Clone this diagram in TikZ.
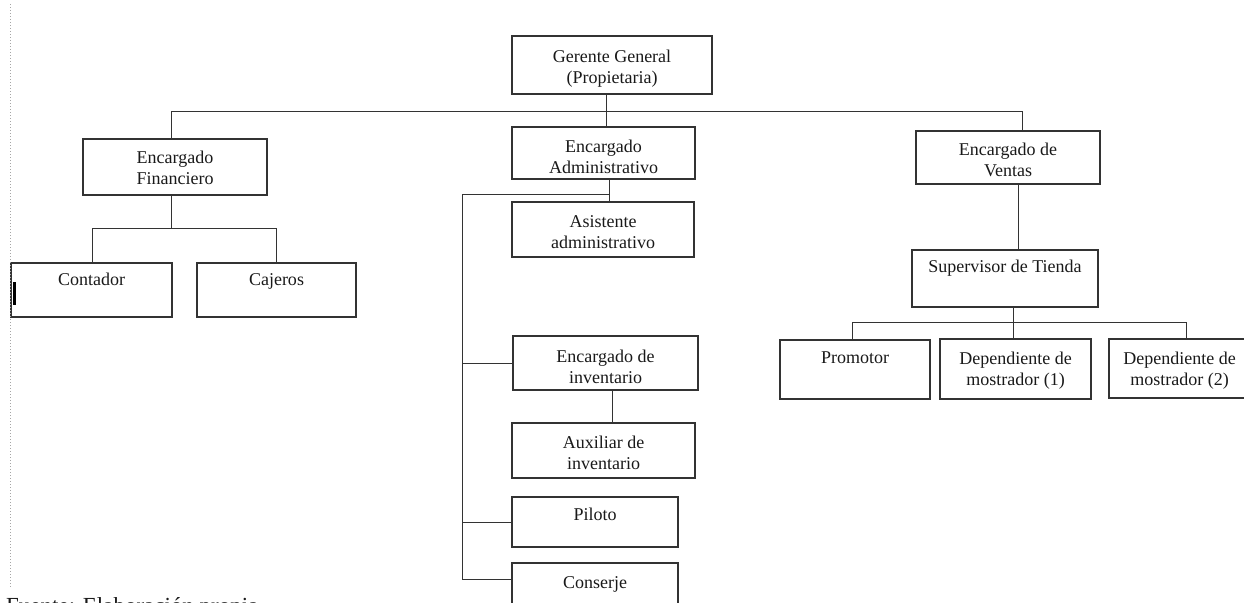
\documentclass[tikz,border=0pt]{standalone}
\usepackage{fontspec}
\setmainfont{Liberation Serif}
\begin{document}
\begin{tikzpicture}[x=1pt,y=-1pt,
  box/.style={draw=black!80, line width=1.1pt, inner sep=0pt, outer sep=0pt, rectangle},
  lbl/.style={anchor=north, align=center, inner sep=0pt, text=black!90, font=\fontsize{18}{21}\selectfont},
  conn/.style={draw=black!80, line width=1pt}]
\useasboundingbox (0,0) rectangle (1244,602);
% boxes
\node[box, minimum width=200pt, minimum height=58pt] (gg) at (612,65) {};
\node[box, minimum width=184pt, minimum height=56pt] (fin) at (175,167) {};
\node[box, minimum width=183pt, minimum height=52pt] (adm) at (603.5,153) {};
\node[box, minimum width=184pt, minimum height=53pt] (ven) at (1008,157.5) {};
\node[box, minimum width=161pt, minimum height=54pt] (cont) at (91.5,290) {};
\node[box, minimum width=159pt, minimum height=54pt] (caj) at (276.5,290) {};
\node[box, minimum width=182pt, minimum height=55pt] (asis) at (603,229.5) {};
\node[box, minimum width=185pt, minimum height=54pt] (inv) at (605.5,363) {};
\node[box, minimum width=183pt, minimum height=55pt] (aux) at (603.5,450.5) {};
\node[box, minimum width=166pt, minimum height=50pt] (pil) at (595,522) {};
\node[box, minimum width=166pt, minimum height=57pt] (cons) at (595,591.5) {};
\node[box, minimum width=186pt, minimum height=57pt] (sup) at (1005,278.5) {};
\node[box, minimum width=150pt, minimum height=59pt] (prom) at (855,369.5) {};
\node[box, minimum width=151pt, minimum height=60pt] (dep1) at (1015.5,369) {};
\node[box, minimum width=141pt, minimum height=59pt] (dep2) at (1179.5,368.5) {};
% labels
\node[lbl] at ([yshift=-14pt]gg.north) {Gerente General\\(Propietaria)};
\node[lbl] at ([yshift=-12pt]fin.north) {Encargado\\Financiero};
\node[lbl] at ([yshift=-13pt]adm.north) {Encargado\\Administrativo};
\node[lbl] at ([yshift=-12pt]ven.north) {Encargado de\\Ventas};
\node[lbl] at ([yshift=-10pt]cont.north) {Contador};
\node[lbl] at ([yshift=-10pt]caj.north) {Cajeros};
\node[lbl] at ([yshift=-13pt]asis.north) {Asistente\\administrativo};
\node[lbl] at ([yshift=-14pt]inv.north) {Encargado de\\inventario};
\node[lbl] at ([yshift=-13pt]aux.north) {Auxiliar de\\inventario};
\node[lbl] at ([yshift=-11pt]pil.north) {Piloto};
\node[lbl] at ([yshift=-13pt]cons.north) {Conserje};
\node[lbl] at ([yshift=-10pt]sup.north) {Supervisor de Tienda};
\node[lbl] at ([yshift=-12pt]prom.north) {Promotor};
\node[lbl] at ([yshift=-13pt]dep1.north) {Dependiente de\\mostrador (1)};
\node[lbl] at ([yshift=-13pt]dep2.north) {Dependiente de\\mostrador (2)};
% coordinates
\coordinate (top) at (606,111);
\coordinate (hL) at (171,111);
\coordinate (hR) at (1022,111);
\coordinate (fb) at (171,228);
\coordinate (fbL) at (92,228);
\coordinate (fbR) at (276,228);
\coordinate (ab) at (609,194);
\coordinate (aL) at (462,194);
\coordinate (aB) at (462,579);
\coordinate (ia) at (612,400);
\coordinate (vs) at (1018,200);
\coordinate (sb) at (1013,322);
\coordinate (sbL) at (852,322);
\coordinate (sbR) at (1186,322);
% connectors
\draw[conn] (gg.south -| top) -- (adm.north -| top);
\draw[conn] (fin.north -| hL) -- (hL) -- (hR) -- (ven.north -| hR);
\draw[conn] (fin.south -| fb) -- (fb);
\draw[conn] (cont.north -| fbL) -- (fbL) -- (fbR) -- (caj.north -| fbR);
\draw[conn] (adm.south -| ab) -- (asis.north -| ab);
\draw[conn] (ab) -- (aL) -- (aB) -- (cons.west |- aB);
\draw[conn] (inv.west) -- (inv.west -| aL);
\draw[conn] (pil.west) -- (pil.west -| aL);
\draw[conn] (inv.south -| ia) -- (aux.north -| ia);
\draw[conn] (ven.south -| vs) -- (sup.north -| vs);
\draw[conn] (sup.south -| sb) -- (sb) -- (dep1.north -| sb);
\draw[conn] (prom.north -| sbL) -- (sbL) -- (sbR) -- (dep2.north -| sbR);
% page marks
\draw[gray!70, dotted, line width=1pt] (10,4) -- (10,588);
\fill[black] (13,282) rectangle (16,305);
\node[anchor=base west, inner sep=0pt, font=\fontsize{23}{26}\selectfont, text=black!90] (src) at (6,613) {Fuente: Elaboración propia};
\end{tikzpicture}
\end{document}
